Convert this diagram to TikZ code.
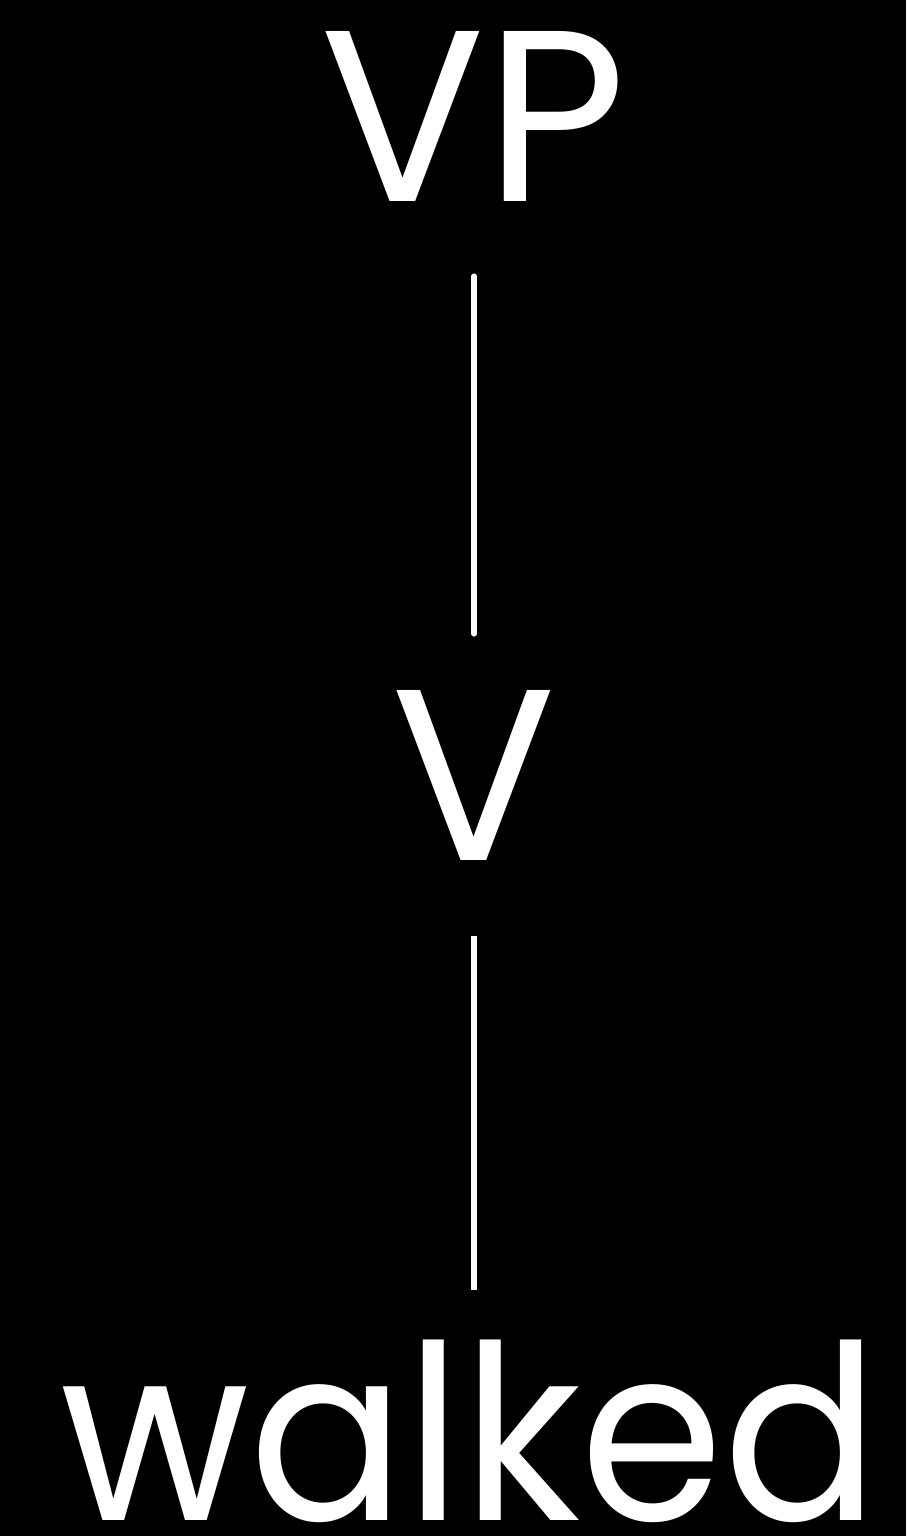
\documentclass[tikz,border=0pt]{standalone}
\usepackage{fontspec}
\setmainfont{Poppins}
\usepackage{tikz}
\usetikzlibrary{calc}

\begin{document}
\begin{tikzpicture}[x=0.5pt, y=-0.5pt]
\fill[black] (0,0) rectangle (906,1536);
\useasboundingbox (0,0) rectangle (906,1536);
\tikzset{label/.style={text=white, inner sep=0pt, anchor=base, text depth=0pt, font=\fontsize{122}{130}\selectfont}}
\node[label, text height=85pt] (vp) at (474,201) {VP};
\node[label, text height=85pt] (v) at (474,860) {V};
\node[label, text height=90pt] (walked) at (470,1520) {\scalebox{0.945}[1]{walked}};
\draw[white, line width=3pt, line cap=round, shorten <=37.5pt, shorten >=28pt] (vp.south) -- (v.north);
\draw[white, line width=3pt, shorten <=38pt, shorten >=25pt] (v.south) -- (v.south |- walked.north);
\end{tikzpicture}
\end{document}
